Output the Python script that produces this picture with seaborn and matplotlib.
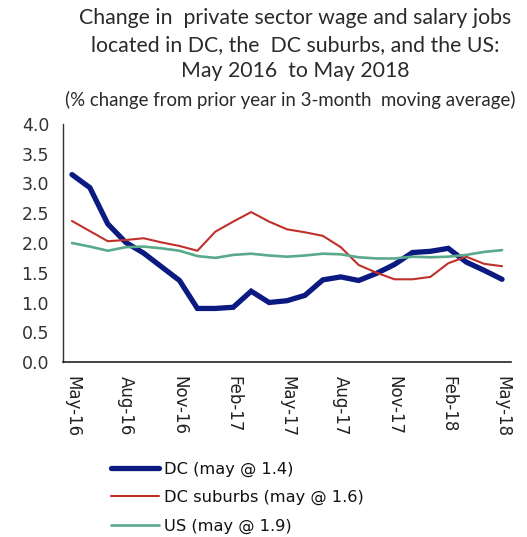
import numpy as np
import pandas as pd
import matplotlib
matplotlib.use("Agg")
import matplotlib.pyplot as plt
import seaborn as sns

# Monthly periods, May 2016 .. May 2018
months = pd.date_range("2016-05-01", "2018-05-01", freq="MS").strftime("%b-%y").tolist()
tick_labels = ["May-16", "Aug-16", "Nov-16", "Feb-17", "May-17",
               "Aug-17", "Nov-17", "Feb-18", "May-18"]

dc = [3.15, 2.93, 2.32, 2.01, 1.83, 1.60, 1.37, 0.90, 0.90, 0.92, 1.19, 1.00,
      1.03, 1.12, 1.38, 1.43, 1.37, 1.49, 1.64, 1.84, 1.86, 1.91, 1.68, 1.54, 1.39]
suburbs = [2.37, 2.20, 2.03, 2.05, 2.08, 2.01, 1.95, 1.87, 2.19, 2.36, 2.52, 2.36,
           2.23, 2.18, 2.12, 1.93, 1.63, 1.50, 1.39, 1.39, 1.43, 1.66, 1.77, 1.65, 1.61]
us = [2.00, 1.94, 1.87, 1.93, 1.94, 1.91, 1.87, 1.78, 1.75, 1.80, 1.82, 1.79,
      1.77, 1.79, 1.82, 1.81, 1.76, 1.74, 1.74, 1.77, 1.76, 1.77, 1.80, 1.85, 1.88]

series_names = ["DC (may @ 1.4)", "DC suburbs (may @ 1.6)", "US (may @ 1.9)"]
colors = ["#0b1a80", "#c0302b", "#5aa98b"]
widths = [3.8, 1.5, 1.9]

df = pd.DataFrame({
    "idx": np.tile(np.arange(len(months)), 3),
    "value": dc + suburbs + us,
    "series": np.repeat(series_names, len(months)),
})

sns.set_style("white")
plt.rcParams["font.family"] = ["DejaVu Sans"]

fig = plt.figure(figsize=(5.27, 5.37), dpi=100)
ax = fig.add_axes([63 / 527, 1 - 362 / 537, 448 / 527, 238 / 537])

sns.lineplot(data=df, x="idx", y="value", hue="series", palette=colors,
             hue_order=series_names, ax=ax, legend=False)
for line, lw in zip(ax.get_lines(), widths):
    line.set_linewidth(lw)
    line.set_solid_joinstyle("miter")

ax.set_xlim(-0.5, len(months) - 0.5)
ax.set_ylim(0, 4.0)
ax.set_yticks(np.arange(0, 4.01, 0.5))
ax.set_yticklabels([f"{v:.1f}" for v in np.arange(0, 4.01, 0.5)])
ax.set_xticks(np.arange(0, len(months), 3))
ax.set_xticklabels(tick_labels, rotation=-90, va="top", ha="center")
ax.set_xticks(np.arange(-0.5, len(months) - 1, 3), minor=True)
ax.tick_params(axis="x", which="major", length=0, pad=10, labelsize=12, colors="#222222")
ax.tick_params(axis="x", which="minor", length=6, width=1, color="#222222", direction="out")
ax.tick_params(axis="y", length=6, width=1, color="#222222", direction="out",
               labelsize=12.5, labelcolor="#333333", pad=4)
ax.set_xlabel("")
ax.set_ylabel("")

for s in ["top", "right"]:
    ax.spines[s].set_visible(False)
ax.spines["bottom"].set_color("#222222")
ax.spines["bottom"].set_linewidth(1.2)
ax.spines["left"].set_color("#333333")
ax.spines["left"].set_linewidth(1.0)
ax.spines["left"].set_linestyle((0, (1.5, 1)))

title_font = ["Lato", "DejaVu Sans"]
fig.text(0.56, 1 - 18 / 537, "Change in  private sector wage and salary jobs",
         ha="center", va="center", fontsize=15.3, family=title_font, color="#2a2a2a")
fig.text(0.56, 1 - 45 / 537, "located in DC, the  DC suburbs, and the US:",
         ha="center", va="center", fontsize=15.3, family=title_font, color="#2a2a2a")
fig.text(0.56, 1 - 71 / 537, "May 2016  to May 2018",
         ha="center", va="center", fontsize=15.3, family=title_font, color="#2a2a2a")
fig.text(0.551, 1 - 100 / 537, "(% change from prior year in 3-month  moving average)",
         ha="center", va="center", fontsize=13.4, family=title_font, color="#2a2a2a")

# Legend below the axes
handles = [plt.Line2D([], [], color=c, lw=lw) for c, lw in zip(colors, widths)]
fig.legend(handles, series_names, loc="upper left",
           bbox_to_anchor=(104 / 527, 1 - 455 / 537), frameon=False,
           fontsize=11.7, handlelength=3.0, handletextpad=0.3, labelspacing=0.82,
           borderaxespad=0, labelcolor="#111111")

fig.savefig("out.png", dpi=100)
